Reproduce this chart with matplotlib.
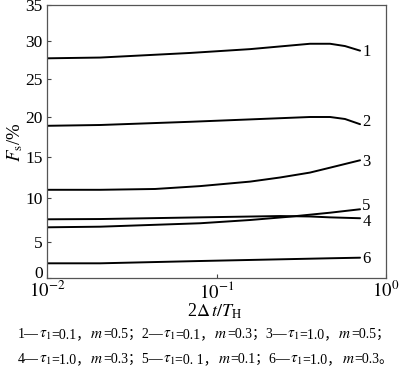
import numpy as np
import matplotlib
matplotlib.use("Agg")
import matplotlib.pyplot as plt

plt.rcParams['font.family'] = ['Liberation Serif', 'Noto Sans CJK SC']
plt.rcParams['mathtext.fontset'] = 'stix'

# ---- data ----
x1 = [0.01, 0.0206, 0.0698, 0.158, 0.356, 0.468, 0.573, 0.703]
y1 = [27.7, 27.8, 28.4, 28.9, 29.6, 29.6, 29.3, 28.7]
x2 = [0.01, 0.0206, 0.0698, 0.158, 0.356, 0.468, 0.573, 0.703]
y2 = [18.9, 19.0, 19.4, 19.7, 20.0, 20.0, 19.75, 19.1]
x3 = [0.01, 0.0206, 0.0434, 0.08, 0.158, 0.237, 0.356, 0.468, 0.703]
y3 = [11.0, 11.0, 11.1, 11.45, 12.0, 12.5, 13.1, 13.7, 14.6]
x4 = [0.01, 0.0206, 0.08, 0.237, 0.356, 0.468, 0.703]
y4 = [7.58, 7.61, 7.8, 7.95, 7.9, 7.8, 7.7]
x5 = [0.01, 0.0206, 0.08, 0.158, 0.272, 0.468, 0.703]
y5 = [6.67, 6.74, 7.13, 7.5, 7.88, 8.33, 8.72]
x6 = [0.01, 0.0206, 0.08, 0.468, 0.703]
y6 = [2.04, 2.04, 2.36, 2.74, 2.82]
curve_names = ['1', '2', '3', '4', '5', '6']
label_y = [28.56, 19.41, 14.39, 7.24, 9.13, 2.6]

yticks = [0, 5, 10, 15, 20, 25, 30, 35]
# apparent (non-uniform) vertical positions of the y ticks in the original drawing
ytick_pos = [0, 36, 80, 121, 161, 199, 237.3, 273]
xticks = [0.01, 0.1, 1.0]
xticklabels = [r'$10^{-2}$', r'$10^{-1}$', r'$10^{0}$']

caption1 = ["1—", r"$\tau_1$", "=0.1，", r"$m$", "=0.5；2—", r"$\tau_1$", "=0.1，", r"$m$",
            "=0.3；3—", r"$\tau_1$", "=1.0，", r"$m$", "=0.5；"]
caption2 = ["4—", r"$\tau_1$", "=1.0，", r"$m$", "=0.3；5—", r"$\tau_1$", "=0. 1，", r"$m$",
            "=0.1；6—", r"$\tau_1$", "=1.0，", r"$m$", "=0.3。"]

fig = plt.figure(figsize=(4.0, 3.73), dpi=100)
ax = fig.add_axes([47/400, (373-278)/373, (386-47)/400, (278-5)/373])

ax.set_xscale('log')
fwd = lambda v: np.interp(v, yticks, ytick_pos)
inv = lambda p: np.interp(p, ytick_pos, yticks)
ax.set_yscale('function', functions=(fwd, inv))

for xs, ys in [(x1, y1), (x2, y2), (x3, y3), (x4, y4), (x5, y5), (x6, y6)]:
    ax.plot(xs, ys, color='black', lw=1.4, solid_capstyle='round')

for name, ly in zip(curve_names, label_y):
    ax.text(0.725, ly, name, ha='left', va='center', fontsize=12)

ax.set_xlim(0.01, 1.0)
ax.set_ylim(0, 35)
ax.set_yticks(yticks)
ax.set_yticklabels([str(v) for v in yticks])
ax.set_xticks(xticks)
ax.set_xticklabels(xticklabels)
ax.xaxis.set_minor_locator(matplotlib.ticker.NullLocator())
ax.tick_params(direction='in', length=3, width=0.8, pad=3, color='#444444')
ax.tick_params(axis='y', labelsize=12.5)
ax.tick_params(axis='x', labelsize=13.5, pad=2)
ax.get_yticklabels()[0].set_va('baseline')
for s in ax.spines.values():
    s.set_color('#555555')
    s.set_linewidth(0.9)

fig.text(15/400, 1 - 142/373, r'$F_{\mathrm{s}}$/%', rotation=90, ha='center', va='center', fontsize=13.5)
fig.text(215/400, 1 - 317/373, r'2$\Delta\,t/T_{\mathrm{H}}$', ha='center', va='baseline', fontsize=13)

def caption(segs, x0, yb, fs):
    prev = fig.text(x0, yb, segs[0], ha='left', va='baseline', fontsize=fs)
    for s in segs[1:]:
        prev = plt.annotate(s, xy=(1, yb), xycoords=(prev, 'figure fraction'),
                            ha='left', va='baseline', fontsize=fs + (1.0 if '$' in s else 0),
                            annotation_clip=False)

caption(caption1, 18/400, 1 - 338/373, 10.0)
caption(caption2, 18/400, 1 - 363/373, 10.0)

fig.savefig('out.png', dpi=100)
